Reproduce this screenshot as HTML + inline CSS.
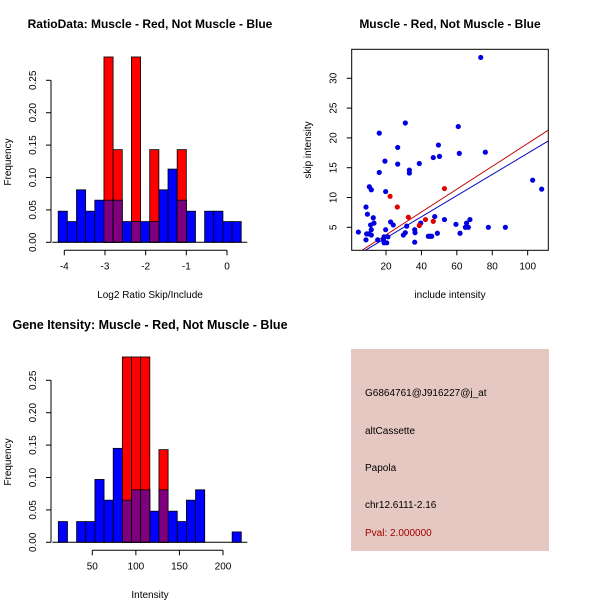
<!DOCTYPE html>
<html><head><meta charset="utf-8"><style>
body{margin:0;background:#fff;}
svg{display:block;font-family:"Liberation Sans",sans-serif;}
</style></head><body>
<svg id="c" width="600" height="600" viewBox="0 0 600 600">
<rect width="600" height="600" fill="#fff"/>
<text x="150" y="28" font-size="12" font-weight="bold" text-anchor="middle">RatioData: Muscle - Red, Not Muscle - Blue</text>
<text x="450" y="28" font-size="12" font-weight="bold" text-anchor="middle">Muscle - Red, Not Muscle - Blue</text>
<text x="150" y="329" font-size="12.5" font-weight="bold" text-anchor="middle">Gene Itensity: Muscle - Red, Not Muscle - Blue</text>
<text x="150" y="298" font-size="10" text-anchor="middle">Log2 Ratio Skip/Include</text>
<text x="150" y="598" font-size="10" text-anchor="middle">Intensity</text>
<text x="450" y="298" font-size="10" text-anchor="middle">include intensity</text>
<text transform="translate(11,162) rotate(-90)" font-size="10" text-anchor="middle">Frequency</text>
<text transform="translate(11,462) rotate(-90)" font-size="10" text-anchor="middle">Frequency</text>
<text transform="translate(311,150) rotate(-90)" font-size="10" text-anchor="middle">skip intensity</text>
<g id="p1"></g>
<g id="p2"></g>
<g id="p3"></g>
<g>
<rect x="351" y="349" width="198" height="202" fill="#E6C8C2"/>
<text x="365" y="396" font-size="10">G6864761@J916227@j_at</text>
<text x="365" y="434" font-size="10">altCassette</text>
<text x="365" y="471" font-size="10">Papola</text>
<text x="365" y="508" font-size="10">chr12.6111-2.16</text>
<text x="365" y="536" font-size="10" fill="#A00000">Pval: 2.000000</text>
</g>
</svg>
<script>
const ratioBins = [-4.15,-3.925,-3.7,-3.475,-3.25,-3.025,-2.8,-2.575,-2.35,-2.125,-1.9,-1.675,-1.45,-1.225,-1.0,-0.775,-0.55,-0.325,-0.1,0.125,0.35];
const ratioBlue = [0.048,0.032,0.081,0.048,0.065,0.065,0.065,0.032,0.032,0.032,0.032,0.081,0.113,0.065,0.048,0,0.048,0.048,0.032,0.032];
const ratioRed  = [0,0,0,0,0,0.286,0.143,0,0.286,0,0.143,0,0,0.143,0,0,0,0,0,0];
const ratioXTicks = [-4,-3,-2,-1,0];
const freqTicks = [0,0.05,0.10,0.15,0.20,0.25];
const freqLabels = ["0.00","0.05","0.10","0.15","0.20","0.25"];

const intBins = [11,21.5,32,42.5,53,63.5,74,84.5,95,105.5,116,126.5,137,147.5,158,168.5,179,189.5,200,210.5,221];
const intBlue = [0.032,0,0.032,0.032,0.097,0.065,0.145,0.065,0.081,0.081,0.048,0.081,0.048,0.032,0.065,0.081,0,0,0,0.016];
const intRed  = [0,0,0,0,0,0,0,0.286,0.286,0.286,0,0.143,0,0,0,0,0,0,0,0];
const intXTicks = [50,100,150,200];

const blueX = [4.4,8.7,8.7,9.5,9.1,10.4,10.6,11.7,11.3,11.7,11.7,12.8,13.2,15.3,16.2,16.2,18.5,18.9,18.9,19.4,19.8,19.8,20.4,21.1,22.6,24.1,26.6,26.6,29.8,30.9,30.9,31.7,33.2,33.2,36.2,36.4,36.2,38.8,39.6,43.9,44.8,45.8,46.7,47.5,49,49.6,50.2,53,59.5,60.8,61.4,61.8,64.8,65.5,66.5,67.4,73.5,76.1,77.8,87.4,102.8,107.9];
const blueY = [4.2,2.9,8.4,7.2,3.9,3.9,11.8,11.3,5.4,4.6,3.7,6.6,5.7,2.9,14.2,20.8,2.9,2.4,3.4,16.1,11.0,4.6,2.4,3.4,5.9,5.4,15.6,18.4,3.7,4.1,22.5,5.2,14.6,14.1,4.6,4.1,2.5,15.7,5.7,3.5,3.5,3.5,16.7,6.8,4.0,18.8,16.9,6.3,5.5,21.9,17.4,4.0,5.0,5.7,5.0,6.3,33.5,17.6,5.0,5.0,12.9,11.4];
const redX = [22.3,26.4,32.6,38.8,42.3,46.7,53];
const redY = [10.2,8.4,6.7,5.3,6.3,6.0,11.5];
const fitSlope = [0.1916,0.1776];
const fitIntercept = [-0.1,-0.34];
const fitColor = ["#C00000","#0000C0"];
const scXTicks = [20,40,60,80,100];
const scYTicks = [5,10,15,20,25,30];

const NS="http://www.w3.org/2000/svg";
function mk(parent,tag,attrs){const e=document.createElementNS(NS,tag);for(const k in attrs)e.setAttribute(k,attrs[k]);parent.appendChild(e);return e;}

function hist(g,bins,blue,red,xticks,x0,x1,xpx0,xpx1,base){
  const sx=v=>xpx0+(v-x0)*(xpx1-xpx0)/(x1-x0);
  const sy=v=>base-v*648;
  for(let i=0;i<blue.length;i++){
    if(blue[i]>0){const r=mk(g,'rect',{x:sx(bins[i]),y:sy(blue[i]),width:sx(bins[i+1])-sx(bins[i]),height:base-sy(blue[i]),fill:'#0000FF',stroke:'#000','stroke-width':0.8});
      
      }
  }
  for(let i=0;i<red.length;i++){
    if(red[i]>0){const r=mk(g,'rect',{x:sx(bins[i]),y:sy(red[i]),width:sx(bins[i+1])-sx(bins[i]),height:base-sy(red[i]),fill:'#FF0000',stroke:'#000','stroke-width':0.8});
      
      
      const m=Math.min(red[i],blue[i]);
      if(m>0){const p=mk(g,'rect',{x:sx(bins[i]),y:sy(m),width:sx(bins[i+1])-sx(bins[i]),height:base-sy(m),fill:'#7F007F',stroke:'#000','stroke-width':0.8});
        
        }
    }
  }
  mk(g,'line',{x1:sx(bins[0])-6,x2:sx(bins[bins.length-1])+6,y1:base,y2:base,stroke:'#000'});
  const ya=mk(g,'g',{});
  
  
  mk(ya,'line',{x1:51,x2:51,y1:sy(0),y2:sy(0.25),stroke:'#000'});
  freqTicks.forEach((t,i)=>{mk(ya,'line',{x1:46,x2:51,y1:sy(t),y2:sy(t),stroke:'#000'});
    const tx=mk(ya,'text',{transform:`translate(36,${sy(t)}) rotate(-90)`,'font-size':10,'text-anchor':'middle'});tx.textContent=freqLabels[i];});
  const xa=mk(g,'g',{});
  
  
  const ay=base+8;
  mk(xa,'line',{x1:sx(xticks[0]),x2:sx(xticks[xticks.length-1]),y1:ay,y2:ay,stroke:'#000'});
  xticks.forEach(t=>{mk(xa,'line',{x1:sx(t),x2:sx(t),y1:ay,y2:ay+5,stroke:'#000'});
    const tx=mk(xa,'text',{x:sx(t),y:ay+19,'font-size':10,'text-anchor':'middle'});tx.textContent=t;});
}
hist(document.getElementById('p1'),ratioBins,ratioBlue,ratioRed,ratioXTicks,-4,0,64.3,227,242.3);
hist(document.getElementById('p3'),intBins,intBlue,intRed,intXTicks,50,200,92.3,223,542.3);

(function(){
  const g=document.getElementById('p2');
  const L=351.7,R=548.3,T=49.3,B=250.3;
  const sx=v=>386+(v-20)*1.771;
  const sy=v=>227.3-(v-5)*5.96;
  const clip=mk(g,'clipPath',{id:'sc'});mk(clip,'rect',{x:L,y:T,width:R-L,height:B-T});
  for(let k=0;k<fitSlope.length;k++){
    const xa=(L-386)/1.771+20, xb=(R-386)/1.771+20;
    const ln=mk(g,'line',{x1:sx(xa),y1:sy(fitIntercept[k]+fitSlope[k]*xa),x2:sx(xb),y2:sy(fitIntercept[k]+fitSlope[k]*xb),stroke:fitColor[k],'stroke-width':1,'clip-path':'url(#sc)'});
    
    
  }
  for(let i=0;i<blueX.length;i++){const c=mk(g,'circle',{cx:sx(blueX[i]),cy:sy(blueY[i]),r:2.6,fill:'#0000E0'});
    
    }
  for(let i=0;i<redX.length;i++){const c=mk(g,'circle',{cx:sx(redX[i]),cy:sy(redY[i]),r:2.6,fill:'#E00000'});
    
    }
  mk(g,'rect',{x:L,y:T,width:R-L,height:B-T,fill:'none',stroke:'#000'});
  const xa=mk(g,'g',{});
  
  
  scXTicks.forEach(t=>{mk(xa,'line',{x1:sx(t),x2:sx(t),y1:B,y2:B+5,stroke:'#000'});
    const tx=mk(xa,'text',{x:sx(t),y:B+19,'font-size':10,'text-anchor':'middle'});tx.textContent=t;});
  const ya=mk(g,'g',{});
  
  
  scYTicks.forEach(t=>{mk(ya,'line',{x1:L-5,x2:L,y1:sy(t),y2:sy(t),stroke:'#000'});
    const tx=mk(ya,'text',{transform:`translate(${L-15},${sy(t)}) rotate(-90)`,'font-size':10,'text-anchor':'middle'});tx.textContent=t;});
})();
</script>
</body></html>
